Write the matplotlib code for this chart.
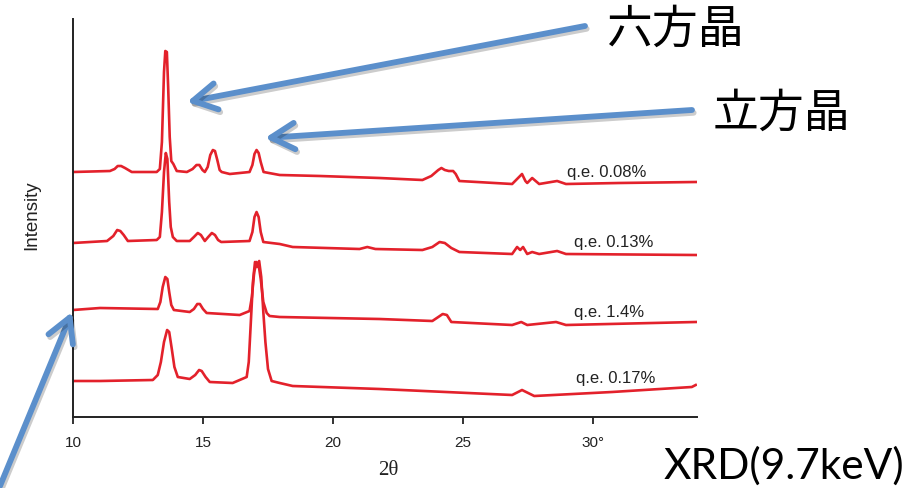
import matplotlib
matplotlib.use("Agg")
import matplotlib.pyplot as plt
import matplotlib.patheffects as pe

# ---------------- data ----------------
# 2-theta positions (deg) and relative intensity (arb. units, offset traces)
tth_008 = [10.00, 11.42, 11.60, 11.72, 11.85, 12.00, 12.26, 13.22, 13.34, 13.42, 13.50, 13.55, 13.61,
           13.66, 13.72, 13.78, 13.86, 13.99, 14.38, 14.60, 14.75, 14.86, 14.98, 15.07, 15.18, 15.28,
           15.38, 15.46, 15.55, 15.64, 15.72, 16.03, 16.79, 16.90, 16.98, 17.06, 17.14, 17.22, 17.33,
           17.95, 19.50, 21.79, 23.44, 23.78, 24.05, 24.17, 24.30, 24.45, 24.62, 24.72, 24.86, 26.89,
           27.08, 27.27, 27.40, 27.47, 27.66, 27.93, 28.62, 28.96, 31.00, 33.95]
int_008 = [245, 246, 248, 251, 251, 249, 245, 245, 248, 275, 345, 366, 365,
           330, 280, 256, 253, 246, 245, 248, 252, 252, 247, 245, 250, 262,
           267, 266, 257, 247, 245, 243, 245, 252, 263, 267, 264, 255, 245,
           242, 241, 239, 237, 241, 247, 249, 247, 246, 246, 243, 236, 233,
           238, 243, 236, 234, 239, 233, 236, 233, 234, 235]

tth_013 = [10.00, 11.31, 11.55, 11.70, 11.82, 11.95, 12.11, 13.22, 13.34, 13.42, 13.50, 13.57, 13.63,
           13.70, 13.76, 13.84, 13.99, 14.49, 14.65, 14.80, 14.92, 15.07, 15.20, 15.34, 15.46, 15.58,
           15.70, 16.79, 16.90, 16.98, 17.06, 17.14, 17.22, 17.32, 17.95, 18.45, 21.02, 21.32, 21.63,
           23.44, 23.82, 24.10, 24.30, 24.55, 24.86, 26.89, 27.08, 27.20, 27.31, 27.47, 27.66, 27.93,
           28.62, 28.96, 33.95]
int_013 = [174, 176, 181, 187, 186, 182, 176, 177, 180, 205, 245, 264, 258,
           215, 190, 180, 176, 176, 180, 184, 182, 176, 180, 184, 182, 177,
           175, 176, 185, 200, 205, 200, 185, 175, 173, 170, 168, 170, 168,
           167, 170, 175, 174, 169, 165, 163, 170, 167, 170, 163, 165, 163,
           166, 163, 162]

tth_14 = [10.00, 11.04, 13.26, 13.36, 13.45, 13.55, 13.63, 13.70, 13.78, 13.88, 14.49, 14.65, 14.78,
          14.88, 15.00, 15.14, 16.41, 16.79, 16.88, 16.97, 17.06, 17.14, 17.22, 17.32, 17.45, 17.56,
          17.95, 21.79, 23.82, 24.05, 24.22, 24.38, 24.55, 26.89, 27.24, 27.47, 28.58, 28.96, 33.95]
int_14 = [107, 109, 108, 115, 130, 140, 138, 125, 112, 107, 105, 108, 113,
          113, 108, 104, 102, 106, 120, 145, 155, 152, 138, 115, 104, 101,
          100, 98, 96, 100, 103, 102, 95, 92, 95, 92, 95, 92, 95]

tth_017 = [10.00, 11.04, 13.07, 13.26, 13.38, 13.50, 13.62, 13.70, 13.80, 13.90, 14.03, 14.49, 14.70,
           14.85, 14.95, 15.10, 15.26, 16.14, 16.41, 16.68, 16.76, 16.84, 16.92, 17.00, 17.08, 17.16,
           17.24, 17.32, 17.40, 17.50, 17.64, 17.95, 18.45, 21.79, 26.89, 27.27, 27.74, 30.73, 33.80,
           33.95]
int_017 = [36, 36, 37, 42, 55, 75, 87, 85, 68, 50, 40, 38, 42,
           47, 46, 40, 35, 34, 37, 40, 55, 95, 135, 155, 150, 156,
           140, 105, 75, 48, 36, 34, 31, 28, 22, 27, 21, 25, 30,
           32]

series_x = [tth_008, tth_013, tth_14, tth_017]
series_y = [int_008, int_013, int_14, int_017]
series_labels = ["q.e. 0.08%", "q.e. 0.13%", "q.e. 1.4%", "q.e. 0.17%"]
label_x = [29.00, 29.27, 29.27, 29.35]
label_y = [245, 176, 106, 39]

xticks = [10, 15, 20, 25, 30]
xtick_labels = ["10", "15", "20", "25", "30°"]

# ---------------- figure ----------------
W, H = 924, 489
fig = plt.figure(figsize=(W / 100, H / 100), dpi=100)
ax = fig.add_axes([73 / W, 1 - 418 / H, (697 - 73) / W, (418 - 20) / H])

red = "#E3212B"
for xs, ys in zip(series_x, series_y):
    ax.plot(xs, ys, color=red, lw=1.9, solid_joinstyle="round")

sans = ["Liberation Sans", "DejaVu Sans"]
for lx, ly, t in zip(label_x, label_y, series_labels):
    ax.text(lx, ly, t, ha="left", va="center", fontsize=12, family=sans, color="#222222")

ax.set_xlim(10, 34)
ax.set_ylim(0, 398)
ax.set_xticks(xticks)
ax.set_xticklabels(xtick_labels, family=sans, fontsize=11, color="#222222")
ax.set_yticks([])
for s in ["top", "right"]:
    ax.spines[s].set_visible(False)
for s in ["left", "bottom"]:
    ax.spines[s].set_linewidth(1.4)
    ax.spines[s].set_color("#222222")
ax.tick_params(axis="x", direction="out", length=5, width=1.3, color="#222222", pad=8)

fig.text(32 / W, 1 - 215 / H, "Intensity", rotation=90, ha="center", va="center",
         fontsize=13.5, family=sans, color="#222222")
fig.text(388 / W, 1 - 471 / H, "2θ", ha="center", va="center",
         fontsize=15, family=["Liberation Serif", "DejaVu Serif"], color="#222222")

cjk = ["Noto Sans CJK JP", "DejaVu Sans"]
fig.text(607 / W, 1 - 29 / H, "六方晶", ha="left", va="center", fontsize=33, family=cjk, color="black")
fig.text(713 / W, 1 - 113 / H, "立方晶", ha="left", va="center", fontsize=33, family=cjk, color="black")
fig.text(664 / W, 1 - 466 / H, "XRD(9.7keV)", ha="left", va="center", fontsize=30.5,
         family=["Lato", "DejaVu Sans"], color="black")

blue = "#5B8FCB"
arrows = [((187, H - 103), (585, H - 27)),
          ((265, H - 139), (692, H - 111)),
          ((72, H - 313), (0, H - 487))]
for tip, tail in arrows:
    ann = ax.annotate("", xy=tip, xycoords="figure pixels", xytext=tail, textcoords="figure pixels",
                      annotation_clip=False,
                      arrowprops=dict(arrowstyle="->,head_length=1.7,head_width=0.95", color=blue,
                                      lw=4.2, mutation_scale=10, shrinkA=0, shrinkB=0,
                                      capstyle="round", joinstyle="round"))
    ann.arrow_patch.set_path_effects([pe.SimpleLineShadow(offset=(1.2, -2.0), alpha=0.2), pe.Normal()])

fig.savefig("out.png", dpi=100)
